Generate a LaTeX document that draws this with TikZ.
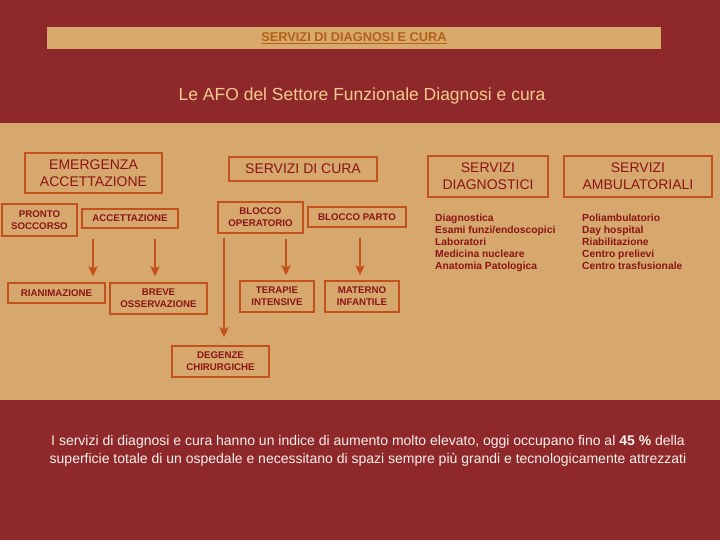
\documentclass[tikz,border=0pt]{standalone}
\usepackage{fontspec}
\setmainfont{Liberation Sans}
\usetikzlibrary{arrows.meta}
\definecolor{bgred}{HTML}{8F282A}
\definecolor{tanband}{HTML}{D7A86E}
\definecolor{hdrfill}{HTML}{D9A96B}
\definecolor{hdrtext}{HTML}{B0621A}
\definecolor{subtext}{HTML}{F7CB8E}
\definecolor{boxline}{HTML}{C4501C}
\definecolor{boxtext}{HTML}{8B1414}
\definecolor{foottext}{HTML}{F7F0EA}
\begin{document}
\begin{tikzpicture}[x=1pt,y=-1pt,
  box/.style={draw=boxline, line width=1.3pt, text=boxtext, align=center, inner sep=0pt},
  headbox/.style={box, font=\fontsize{14}{17}\selectfont},
  smallbox/.style={box, font=\fontsize{9.7}{12}\selectfont\bfseries},
  listtext/.style={text=boxtext, align=left, inner sep=0pt, anchor=north west, font=\fontsize{10.3}{12}\selectfont\bfseries},
  arr/.style={draw=boxline, line width=1.8pt, -{Stealth[length=10pt,width=9pt,inset=2pt]}}]
\useasboundingbox (0,0) rectangle (720,540);
\fill[bgred] (0,0) rectangle (720,540);
\fill[tanband] (0,123) rectangle (720,400);
% header
\node[fill=hdrfill, minimum width=614pt, minimum height=22pt, inner sep=0pt, text=hdrtext, font=\fontsize{12.8}{14}\selectfont\bfseries] (hdr) at (354,38) {\underline{SERVIZI DI DIAGNOSI E CURA}};
\node[text=subtext, font=\fontsize{17.5}{20}\selectfont] (sub) at (362,96) {Le AFO del Settore Funzionale Diagnosi e cura};
% headings
\node[headbox, minimum width=137pt, minimum height=40pt] (emerg) at (93.5,173) {EMERGENZA\\ACCETTAZIONE};
\node[headbox, minimum width=148pt, minimum height=24pt] (cura) at (303,169) {SERVIZI DI CURA};
\node[headbox, minimum width=120pt, minimum height=41pt] (diag) at (488,176.5) {SERVIZI\\DIAGNOSTICI};
\node[headbox, minimum width=148pt, minimum height=41pt] (amb) at (638,176.5) {SERVIZI\\AMBULATORIALI};
% small boxes
\node[smallbox, minimum width=75pt, minimum height=32pt] (ps) at (39.5,220) {PRONTO\\SOCCORSO};
\node[smallbox, minimum width=96pt, minimum height=19pt] (acc) at (130,218.5) {ACCETTAZIONE};
\node[smallbox, minimum width=85pt, minimum height=31pt] (bo) at (260.5,217.5) {BLOCCO\\OPERATORIO};
\node[smallbox, minimum width=98pt, minimum height=20pt] (bp) at (357,217) {BLOCCO PARTO};
\node[smallbox, minimum width=97pt, minimum height=20pt] (rian) at (56.5,293) {RIANIMAZIONE};
\node[smallbox, minimum width=97pt, minimum height=31pt] (breve) at (158.5,298.5) {BREVE\\OSSERVAZIONE};
\node[smallbox, minimum width=74pt, minimum height=31pt] (ter) at (277,296.5) {TERAPIE\\INTENSIVE};
\node[smallbox, minimum width=74pt, minimum height=31pt] (mat) at (362,296.5) {MATERNO\\INFANTILE};
\node[smallbox, minimum width=97pt, minimum height=31pt] (deg) at (220.5,361.5) {DEGENZE\\CHIRURGICHE};
% arrows
\draw[arr] ([xshift=-37pt,yshift=-10pt]acc.south) -- ([xshift=36.5pt,yshift=6pt]rian.north);
\draw[arr] ([xshift=25pt,yshift=-10pt]acc.south) -- ([xshift=-3.5pt,yshift=6pt]breve.north);
\draw[arr] ([xshift=-36.5pt,yshift=-4pt]bo.south) -- ([xshift=3.5pt,yshift=8pt]deg.north);
\draw[arr] ([xshift=25.5pt,yshift=-5pt]bo.south) -- ([xshift=9pt,yshift=5pt]ter.north);
\draw[arr] ([xshift=3pt,yshift=-10pt]bp.south) -- ([xshift=-2pt,yshift=5pt]mat.north);
% lists
\node[listtext] (dlist) at (435,213.5) {Diagnostica\\Esami funzi/endoscopici\\Laboratori\\Medicina nucleare\\Anatomia Patologica};
\node[listtext] (alist) at (582,213.5) {Poliambulatorio\\Day hospital\\Riabilitazione\\Centro prelievi\\Centro trasfusionale};
% footer
\node[text=foottext, align=center, font=\fontsize{14}{18}\selectfont] (foot) at (368,451) {I servizi di diagnosi e cura hanno un indice di aumento molto elevato, oggi occupano fino al {\bfseries 45 \%} della\\superficie totale di un ospedale e necessitano di spazi sempre più grandi e tecnologicamente attrezzati};
\end{tikzpicture}
\end{document}
